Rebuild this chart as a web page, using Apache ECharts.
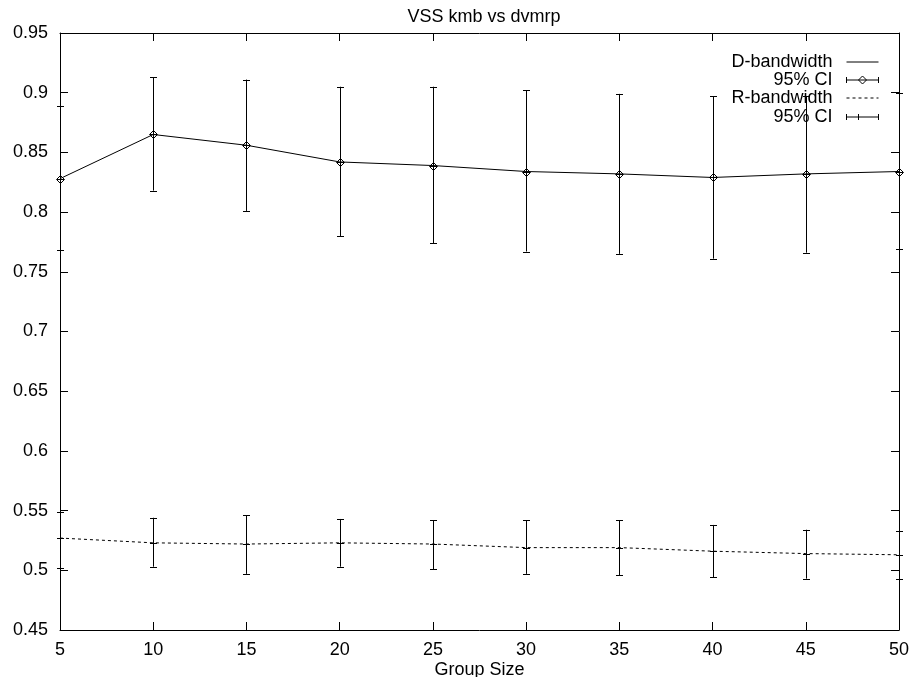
<!DOCTYPE html>
<html>
<head>
<meta charset="utf-8">
<script src="https://cdn.jsdelivr.net/npm/echarts@6/dist/echarts.min.js"></script>
<style>
html,body{margin:0;padding:0;background:#fff;}
#chart{width:912px;height:677px;}
</style>
</head>
<body>
<div id="chart"></div>
<script>
const titleText = 'VSS kmb vs dvmrp';
const xAxisName = 'Group Size';
const groupSizes = [5, 10, 15, 20, 25, 30, 35, 40, 45, 50];
const dBandwidth = [0.828, 0.865, 0.856, 0.842, 0.839, 0.834, 0.832, 0.829, 0.832, 0.834];
const dLow       = [0.768, 0.818, 0.801, 0.780, 0.774, 0.767, 0.765, 0.761, 0.766, 0.769];
const dHigh      = [0.889, 0.913, 0.911, 0.905, 0.905, 0.902, 0.899, 0.897, 0.897, 0.900];
const rBandwidth = [0.527, 0.523, 0.522, 0.523, 0.522, 0.519, 0.519, 0.516, 0.514, 0.513];
const rLow       = [0.502, 0.503, 0.497, 0.503, 0.501, 0.497, 0.496, 0.494, 0.493, 0.493];
const rHigh      = [0.549, 0.544, 0.546, 0.543, 0.542, 0.542, 0.542, 0.538, 0.534, 0.533];
const yTicks = [0.45, 0.5, 0.55, 0.6, 0.65, 0.7, 0.75, 0.8, 0.85, 0.9, 0.95];

const FONT = 'Liberation Sans, Arial, Helvetica, sans-serif';
const chart = echarts.init(document.getElementById('chart'), null, {renderer: 'canvas'});

const dLine = groupSizes.map((x, i) => [x, dBandwidth[i]]);
const rLine = groupSizes.map((x, i) => [x, rBandwidth[i]]);
const dErr = groupSizes.map((x, i) => [x, dLow[i], dHigh[i], dBandwidth[i]]);
const rErr = groupSizes.map((x, i) => [x, rLow[i], rHigh[i], rBandwidth[i]]);

function errRender(withDiamond) {
  return function (params, api) {
    const x = api.value(0);
    const lo = api.coord([x, api.value(1)]);
    const hi = api.coord([x, api.value(2)]);
    const c = api.coord([x, api.value(3)]);
    const px = Math.round(lo[0]) + 0.5;
    const cap = 3.5;
    const style = {stroke: '#000', lineWidth: 1, fill: null};
    const children = [
      {type: 'line', shape: {x1: px, y1: lo[1], x2: px, y2: hi[1]}, style},
      {type: 'line', shape: {x1: px - cap, y1: Math.round(lo[1]) + 0.5, x2: px + cap, y2: Math.round(lo[1]) + 0.5}, style},
      {type: 'line', shape: {x1: px - cap, y1: Math.round(hi[1]) + 0.5, x2: px + cap, y2: Math.round(hi[1]) + 0.5}, style},
      {type: 'line', shape: {x1: px - 3.5, y1: Math.round(c[1]) + 0.5, x2: px + 3.5, y2: Math.round(c[1]) + 0.5}, style}
    ];
    if (withDiamond) {
      const cy = Math.round(c[1]) + 0.5;
      children.push({type: 'polygon', shape: {points: [[px - 4, cy], [px, cy - 4], [px + 4, cy], [px, cy + 4]]},
        style: {stroke: '#000', lineWidth: 1, fill: null}});
    }
    return {type: 'group', children};
  };
}

function makeLegend(name, top, icon, extra) {
  return Object.assign({
    show: true,
    orient: 'vertical',
    right: 33,
    top: top,
    padding: 0,
    align: 'right',
    itemWidth: 32,
    itemHeight: 8,
    selectedMode: false,
    data: icon ? [{name: name, icon: icon}] : [name],
    formatter: n => n.trim(),
    textStyle: {color: '#000', fontSize: 18, fontFamily: FONT, padding: [0, 9, 0, 0]}
  }, extra || {});
}

const option = {
  backgroundColor: '#fff',
  animation: false,
  title: {
    text: titleText,
    left: 479,
    textAlign: 'center',
    top: 3,
    textStyle: {color: '#000', fontSize: 18, fontWeight: 'normal', fontFamily: FONT}
  },
  legend: [
    makeLegend('D-bandwidth', 53, null, {lineStyle: {color: '#000', width: 1},
      itemStyle: {color: 'rgba(0,0,0,0)', borderWidth: 0, opacity: 0}}),
    makeLegend('95% CI', 71, 'path://M0,4L32,4M0,1L0,7M32,1L32,7M12,4L16,0L20,4L16,8Z',
      {itemStyle: {color: '#fff', borderColor: '#000', borderWidth: 1}}),
    makeLegend('R-bandwidth', 89, null, {lineStyle: {color: '#000', width: 1, type: [3, 3]},
      itemStyle: {color: 'rgba(0,0,0,0)', borderWidth: 0, opacity: 0}}),
    makeLegend('95% CI ', 108, 'path://M0,4L32,4M0,1L0,7M32,1L32,7M12,1L12,7',
      {itemStyle: {color: '#fff', borderColor: '#000', borderWidth: 1}})
  ],
  grid: {left: 60, right: 13, top: 33, bottom: 47, containLabel: false, outerBoundsMode: 'none'},
  xAxis: [{
    type: 'value', min: 5, max: 50, interval: 5, position: 'bottom',
    name: xAxisName, nameLocation: 'middle', nameGap: 31, nameMoveOverlap: false,
    nameTextStyle: {color: '#000', fontSize: 18, fontFamily: FONT},
    axisLine: {show: true, onZero: false, lineStyle: {color: '#000', width: 1}},
    axisTick: {show: true, inside: true, length: 8, lineStyle: {color: '#000'}},
    axisLabel: {color: '#000', fontSize: 18, fontFamily: FONT, margin: 11},
    splitLine: {show: false}
  }, {
    type: 'value', min: 5, max: 50, interval: 5, position: 'top',
    axisLine: {show: true, onZero: false, lineStyle: {color: '#000', width: 1}},
    axisTick: {show: true, inside: true, length: 8, lineStyle: {color: '#000'}},
    axisLabel: {show: false},
    splitLine: {show: false}
  }],
  yAxis: [{
    type: 'value', min: yTicks[0], max: yTicks[yTicks.length - 1], interval: 0.05, position: 'left',
    axisLine: {show: true, onZero: false, lineStyle: {color: '#000', width: 1}},
    axisTick: {show: true, inside: true, length: 8, lineStyle: {color: '#000'}},
    axisLabel: {color: '#000', fontSize: 18, fontFamily: FONT, margin: 12,
      formatter: v => String(Math.round(v * 100) / 100)},
    splitLine: {show: false}
  }, {
    type: 'value', min: yTicks[0], max: yTicks[yTicks.length - 1], interval: 0.05, position: 'right',
    axisLine: {show: true, onZero: false, lineStyle: {color: '#000', width: 1}},
    axisTick: {show: true, inside: true, length: 8, lineStyle: {color: '#000'}},
    axisLabel: {show: false},
    splitLine: {show: false}
  }],
  series: [
    {
      name: 'D-bandwidth', type: 'line', data: dLine, symbol: 'none',
      lineStyle: {color: '#000', width: 1}, itemStyle: {color: '#000'}, z: 2
    },
    {
      name: '95% CI', type: 'custom', data: dErr, renderItem: errRender(true),
      itemStyle: {color: '#000'}, encode: {x: 0, y: [1, 2, 3]}, z: 3, clip: false
    },
    {
      name: 'R-bandwidth', type: 'line', data: rLine, symbol: 'none',
      lineStyle: {color: '#000', width: 1, type: [3, 3]}, itemStyle: {color: '#000'}, z: 2
    },
    {
      name: '95% CI ', type: 'custom', data: rErr, renderItem: errRender(false),
      itemStyle: {color: '#000'}, encode: {x: 0, y: [1, 2, 3]}, z: 3, clip: false
    }
  ]
};
chart.setOption(option);
</script>
</body>
</html>
